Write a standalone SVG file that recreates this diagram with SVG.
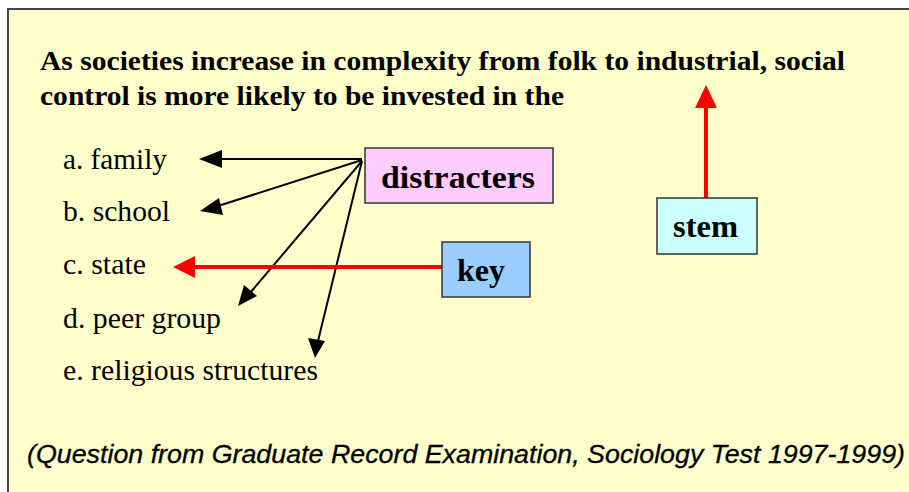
<svg xmlns="http://www.w3.org/2000/svg" width="909" height="492" viewBox="0 0 909 492">
<defs>
<style>
.title{font-family:"Liberation Serif",serif;font-weight:bold;font-size:28px;fill:#000}
.opt{font-family:"Liberation Serif",serif;font-size:29px;fill:#000}
.lbl{font-family:"Liberation Serif",serif;font-weight:bold;font-size:31px;fill:#000}
.foot{font-family:"Liberation Sans",sans-serif;font-style:italic;font-size:25px;fill:#000;stroke:#000;stroke-width:0.3}
.box{stroke:#333;stroke-width:1.5}
.blk{stroke:#000;stroke-width:2;fill:none}
.red{stroke:#f00;stroke-width:4;fill:none}
</style>
</defs>
<rect x="0" y="0" width="909" height="492" fill="#fff"/>
<rect x="8" y="9" width="903" height="490" fill="#FFFFCC" stroke="#444" stroke-width="2"/>
<text class="title" x="40" y="70" textLength="805" lengthAdjust="spacingAndGlyphs">As societies increase in complexity from folk to industrial, social</text>
<text class="title" x="40" y="105" textLength="524" lengthAdjust="spacingAndGlyphs">control is more likely to be invested in the</text>
<text class="opt" x="63" y="169" textLength="104" lengthAdjust="spacingAndGlyphs">a. family</text>
<text class="opt" x="63" y="221" textLength="107" lengthAdjust="spacingAndGlyphs">b. school</text>
<text class="opt" x="63" y="274" textLength="83" lengthAdjust="spacingAndGlyphs">c. state</text>
<text class="opt" x="63" y="328" textLength="158" lengthAdjust="spacingAndGlyphs">d. peer group</text>
<text class="opt" x="63" y="380" textLength="255" lengthAdjust="spacingAndGlyphs">e. religious structures</text>
<text class="foot" x="27" y="463" textLength="878" lengthAdjust="spacingAndGlyphs">(Question from Graduate Record Examination, Sociology Test 1997-1999)</text>
<g id="connectors">
<path class="blk" d="M362,159 L215,159"/>
<polygon points="199,159 222,150 222,168" fill="#000"/>
<path class="blk" d="M362,160 L218,206"/>
<polygon points="200,211 219,198 223,215" fill="#000"/>
<path class="blk" d="M362,161 L250,293"/>
<polygon points="238,306 244,285 257,296" fill="#000"/>
<path class="blk" d="M362,161 L318,341"/>
<polygon points="315,358 308,338 325,341" fill="#000"/>
<path class="red" d="M442,267 L190,267"/>
<polygon points="173,267 195,256 195,278" fill="#f00"/>
<path class="red" d="M706,198 L706,104"/>
<polygon points="706,85 695,108 717,108" fill="#f00"/>
</g>
<g id="distracters">
<rect class="box" x="365" y="148" width="188" height="55" fill="#FFCCFF"/>
<text class="lbl" x="381" y="188" textLength="154" lengthAdjust="spacingAndGlyphs">distracters</text>
</g>
<g id="key">
<rect class="box" x="442" y="242" width="88" height="55" fill="#99CCFF"/>
<text class="lbl" x="457" y="281" textLength="48" lengthAdjust="spacingAndGlyphs">key</text>
</g>
<g id="stem">
<rect class="box" x="657" y="198" width="100" height="56" fill="#CCFFFF"/>
<text class="lbl" x="673" y="237" textLength="65" lengthAdjust="spacingAndGlyphs">stem</text>
</g>
</svg>
